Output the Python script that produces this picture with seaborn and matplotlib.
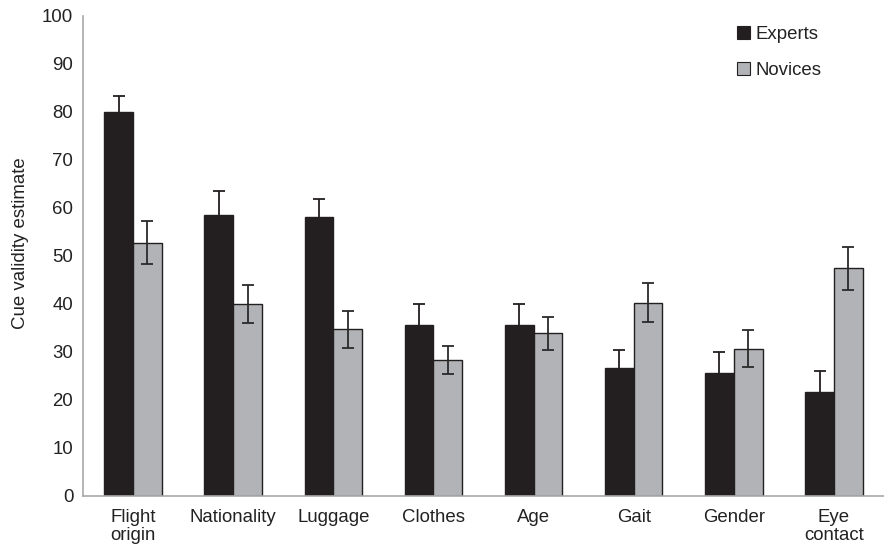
import matplotlib
matplotlib.use("Agg")
import matplotlib.pyplot as plt
import seaborn as sns
import pandas as pd
import numpy as np
from matplotlib.patches import Patch

# Cue validity estimates by cue, experts vs novices
cues = ["Flight\norigin", "Nationality", "Luggage", "Clothes", "Age", "Gait", "Gender", "Eye\ncontact"]
experts = [80.0, 58.5, 58.2, 35.7, 35.6, 26.7, 25.7, 21.7]
novices = [52.8, 40.0, 34.7, 28.3, 33.9, 40.3, 30.7, 47.4]
experts_err = [3.4, 5.1, 3.7, 4.4, 4.5, 3.8, 4.3, 4.4]
novices_err = [4.4, 4.0, 3.9, 2.9, 3.4, 4.0, 3.8, 4.4]
groups = ["Experts", "Novices"]
colors = {"Experts": "#231f20", "Novices": "#b1b3b6"}

df = pd.DataFrame({
    "cue": cues * 2,
    "group": ["Experts"] * len(cues) + ["Novices"] * len(cues),
    "value": experts + novices,
})

sns.set_style("white")
plt.rcParams["font.family"] = ["Liberation Sans", "DejaVu Sans"]

W, H = 884, 549
fig = plt.figure(figsize=(W / 100, H / 100), dpi=100)
ax = fig.add_axes([83 / W, 53 / H, (W - 83) / W, 480 / H])

sns.barplot(data=df, x="cue", y="value", hue="group", order=cues, hue_order=groups,
            palette=colors, saturation=1, width=0.575, errorbar=None,
            edgecolor="#231f20", linewidth=1.0, legend=False, ax=ax)

# Error bars at the bar centres of each hue container
for container, vals, errs, ec in zip(ax.containers, [experts, novices],
                                     [experts_err, novices_err], ["#231f20", "#2a2a2a"]):
    xs = [p.get_x() + p.get_width() / 2 for p in container.patches]
    ax.errorbar(xs, vals, yerr=errs, fmt="none", ecolor=ec,
                elinewidth=1.3, capsize=4.5, capthick=1.3, zorder=5)

ax.set_xlim(-0.5, -0.5 + (W - 83) / 101.2)
ax.set_ylim(0, 100)
ax.set_yticks(np.arange(0, 101, 10))
ax.set_xlabel("")
ax.set_ylabel("Cue validity estimate", fontsize=13.4, color="#222222")
ax.yaxis.set_label_coords(-54 / (W - 83), (496 - 243) / 480)

ax.set_xticks(range(len(cues)))
ax.set_xticklabels(cues, fontsize=13.4, linespacing=1.15, va="top")
ax.set_xticks(np.arange(-0.5, len(cues), 1.0), minor=True)
ax.tick_params(axis="x", which="major", length=0, pad=9, colors="#222222")
ax.tick_params(axis="x", which="minor", length=5, width=1, color="#a8a8a8", direction="out")
ax.tick_params(axis="y", length=5, width=1, color="#a8a8a8", direction="out",
               labelsize=13.4, labelcolor="#222222", pad=2)

for side in ["top", "right"]:
    ax.spines[side].set_visible(False)
for side in ["left", "bottom"]:
    ax.spines[side].set_color("#a8a8a8")
    ax.spines[side].set_linewidth(1.2)

handles = [Patch(facecolor=colors[g], edgecolor="#231f20", linewidth=0.8, label=g) for g in groups]
ax.legend(handles=handles, loc="upper left", bbox_to_anchor=(720 / W, 1 - 9 / H),
          bbox_transform=fig.transFigure, frameon=False, fontsize=13.4,
          handlelength=0.7, handleheight=0.7, handletextpad=0.3, labelspacing=1.05,
          labelcolor="#222222")

fig.savefig("out.png", dpi=100)
